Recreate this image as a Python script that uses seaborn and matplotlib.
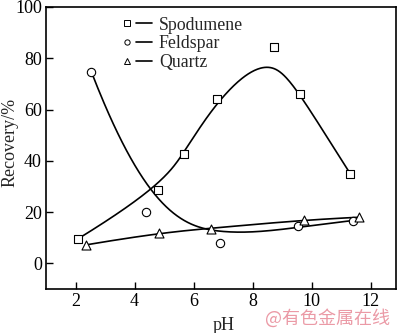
import numpy as np
import pandas as pd
import seaborn as sns
import matplotlib
matplotlib.use("Agg")
import matplotlib.pyplot as plt
from matplotlib.lines import Line2D
from matplotlib.legend_handler import HandlerTuple

# ---- data ----
spod_ph = [2.1, 4.78, 5.66, 6.78, 8.71, 9.59, 11.3]
spod_rec = [9.7, 28.7, 42.7, 64.0, 84.3, 66.0, 35.0]
feld_ph = [2.54, 4.37, 6.88, 9.52, 11.39]
feld_rec = [74.6, 20.2, 7.8, 14.4, 16.7]
quartz_ph = [2.34, 4.82, 6.58, 9.73, 11.6]
quartz_rec = [7.2, 12.0, 13.6, 17.0, 18.0]
series = ["Spodumene", "Feldspar", "Quartz"]
x_ticks = [2, 4, 6, 8, 10, 12]
y_ticks = [0, 20, 40, 60, 80, 100]


def bspline(px, py, k=3, n=200):
    """Clamped uniform B-spline using the data points as control points."""
    P = np.column_stack([px, py])
    m = len(P)
    k = min(k, m - 1)
    inner = np.arange(1, m - k)
    knots = np.concatenate([np.zeros(k + 1), inner, np.full(k + 1, m - k)]).astype(float)
    t = np.linspace(0, m - k, n)
    t[-1] -= 1e-9
    out = []
    for tt in t:
        N = np.array([1.0 if knots[i] <= tt < knots[i + 1] else 0.0 for i in range(len(knots) - 1)])
        for d in range(1, k + 1):
            Nn = np.zeros(len(knots) - 1 - d)
            for i in range(len(Nn)):
                a = 0.0
                if knots[i + d] != knots[i]:
                    a = (tt - knots[i]) / (knots[i + d] - knots[i]) * N[i]
                b = 0.0
                if knots[i + d + 1] != knots[i + 1]:
                    b = (knots[i + d + 1] - tt) / (knots[i + d + 1] - knots[i + 1]) * N[i + 1]
                Nn[i] = a + b
            N = Nn
        out.append(N @ P)
    out = np.array(out)
    return out[:, 0], out[:, 1]


sns.set_style("ticks")
plt.rcParams["font.family"] = ["Liberation Serif", "DejaVu Serif"]

fig = plt.figure(figsize=(4.0, 3.33), dpi=100)
ax = fig.add_axes([0.115, 0.132, 0.875, 0.847])

pts = pd.DataFrame({
    "pH": spod_ph + feld_ph + quartz_ph,
    "rec": spod_rec + feld_rec + quartz_rec,
    "mineral": [series[0]] * len(spod_ph) + [series[1]] * len(feld_ph) + [series[2]] * len(quartz_ph),
})

curves = []
for name, xs, ys in [(series[0], spod_ph, spod_rec), (series[1], feld_ph, feld_rec), (series[2], quartz_ph, quartz_rec)]:
    cx, cy = bspline(xs, ys)
    curves.append(pd.DataFrame({"pH": cx, "rec": cy, "mineral": name}))
curves = pd.concat(curves, ignore_index=True)

for name in series:
    sub = curves[curves.mineral == name]
    sns.lineplot(data=sub, x="pH", y="rec", ax=ax, color="black", lw=1.2, sort=False,
                 estimator=None, legend=False)

marks = {series[0]: ("s", 30), series[1]: ("o", 36), series[2]: ("^", 42)}
for name in series:
    sub = pts[pts.mineral == name]
    mk, s = marks[name]
    sns.scatterplot(data=sub, x="pH", y="rec", ax=ax, marker=mk, s=s, facecolor="white",
                    edgecolor="black", linewidth=0.8, zorder=5, legend=False)

ax.set_xlim(1.0, 12.85)
ax.set_ylim(-10, 100)
ax.set_xticks(x_ticks)
ax.set_yticks(y_ticks)
ax.tick_params(direction="in", length=5, width=1.0, labelsize=13, colors="black", pad=3,
               top=False, right=False)
for sp in ax.spines.values():
    sp.set_linewidth(1.2)
    sp.set_color("black")
ax.set_xlabel("pH", fontsize=13)
ax.set_ylabel("Recovery/%", fontsize=13)
ax.xaxis.set_label_coords(0.509, -0.099)
ax.yaxis.set_label_coords(-0.079, 0.521)

handles = []
for name in series:
    mk, _ = marks[name]
    h_m = Line2D([], [], marker=mk, ls="none", markersize=3.8, markerfacecolor="white",
                 markeredgecolor="black", markeredgewidth=0.7)
    h_l = Line2D([], [], color="black", lw=1.2)
    handles.append((h_m, h_l))
ax.legend(handles, series, handler_map={tuple: HandlerTuple(ndivide=None, pad=0)},
          loc="upper left", bbox_to_anchor=(0.209, 0.966), frameon=False, fontsize=12.8,
          handlelength=1.84, handletextpad=0.4, labelspacing=0.1, borderpad=0,
          borderaxespad=0)

fig.text(0.818, 0.043, "@有色金属在线", color="#eb9aa6", fontsize=13, ha="center", va="center",
         family=["Noto Sans CJK SC", "DejaVu Sans"])

fig.savefig("out.png", dpi=100)
